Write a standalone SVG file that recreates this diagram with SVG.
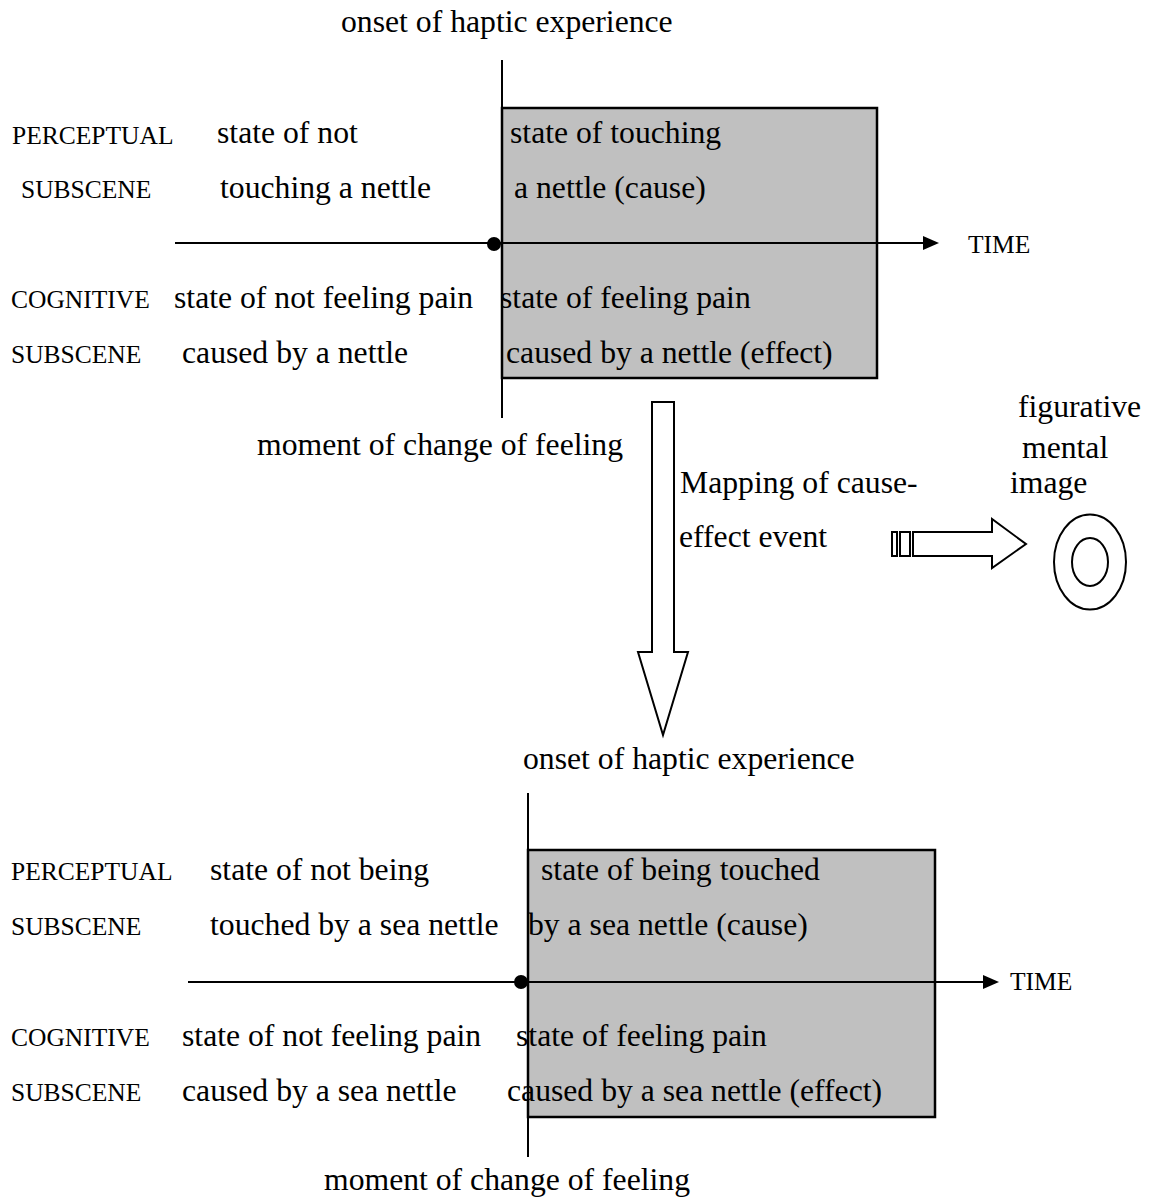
<svg xmlns="http://www.w3.org/2000/svg" width="1150" height="1198" viewBox="0 0 1150 1198">
  <style>
    text { font-family: "Liberation Serif", "Times New Roman", serif; fill: #000; }
    .big { font-size: 31.7px; }
    .cap { font-size: 25.5px; }
    .ln { stroke: #000; stroke-width: 2; fill: none; }
    .box { fill: #c0c0c0; stroke: #000; stroke-width: 2.5; }
    .hollow { fill: #fff; stroke: #000; stroke-width: 2; }
  </style>

  <!-- upper scene: touching a nettle -->
  <g id="scene-top">
    <rect class="box" x="502" y="108" width="375" height="270"/>
    <text class="big" x="341" y="32">onset of haptic experience</text>
    <text class="cap" x="12" y="144">PERCEPTUAL</text>
    <text class="big" x="217" y="143">state of not</text>
    <text class="big" x="510" y="143">state of touching</text>
    <text class="cap" x="21" y="198">SUBSCENE</text>
    <text class="big" x="220" y="198">touching a nettle</text>
    <text class="big" x="514" y="198">a nettle (cause)</text>
    <text class="cap" x="968" y="253">TIME</text>
    <text class="cap" x="11" y="308">COGNITIVE</text>
    <text class="big" x="174" y="308">state of not feeling pain</text>
    <text class="big" x="500" y="308">state of feeling pain</text>
    <text class="cap" x="11" y="363">SUBSCENE</text>
    <text class="big" x="182" y="363">caused by a nettle</text>
    <text class="big" x="506" y="363">caused by a nettle (effect)</text>
    <text class="big" x="257" y="455">moment of change of feeling</text>
  </g>

  <!-- lower scene: touched by a sea nettle -->
  <g id="scene-bottom">
    <rect class="box" x="528" y="850" width="407" height="267"/>
    <text class="big" x="523" y="769">onset of haptic experience</text>
    <text class="cap" x="11" y="880">PERCEPTUAL</text>
    <text class="big" x="210" y="880">state of not being</text>
    <text class="big" x="541" y="880">state of being touched</text>
    <text class="cap" x="11" y="935">SUBSCENE</text>
    <text class="big" x="210" y="935">touched by a sea nettle</text>
    <text class="big" x="528" y="935">by a sea nettle (cause)</text>
    <text class="cap" x="1010" y="990">TIME</text>
    <text class="cap" x="11" y="1046">COGNITIVE</text>
    <text class="big" x="182" y="1046">state of not feeling pain</text>
    <text class="big" x="516" y="1046">state of feeling pain</text>
    <text class="cap" x="11" y="1101">SUBSCENE</text>
    <text class="big" x="182" y="1101">caused by a sea nettle</text>
    <text class="big" x="507" y="1101">caused by a sea nettle (effect)</text>
    <text class="big" x="324" y="1190">moment of change of feeling</text>
  </g>

  <!-- mapping label -->
  <g id="mapping-label">
    <text class="big" x="680" y="493">Mapping of cause-</text>
    <text class="big" x="679" y="547">effect event</text>
  </g>

  <!-- figurative mental image -->
  <g id="mental-image">
    <text class="big" x="1018" y="417">figurative</text>
    <text class="big" x="1022" y="458">mental</text>
    <text class="big" x="1010" y="493">image</text>
    <ellipse class="ln" cx="1090" cy="562" rx="36" ry="47.5"/>
    <ellipse class="ln" cx="1090" cy="562" rx="18" ry="24"/>
  </g>

  <g id="connectors">
    <!-- upper time axis, onset line and change point -->
    <line class="ln" x1="502" y1="60" x2="502" y2="418"/>
    <line class="ln" x1="175" y1="243" x2="925" y2="243"/>
    <polygon points="923,236 939,243 923,250" fill="#000"/>
    <circle cx="494" cy="244" r="7" fill="#000"/>

    <!-- lower time axis, onset line and change point -->
    <line class="ln" x1="528" y1="793" x2="528" y2="1157"/>
    <line class="ln" x1="188" y1="982" x2="985" y2="982"/>
    <polygon points="983,975 999,982 983,989" fill="#000"/>
    <circle cx="521" cy="982" r="7" fill="#000"/>

    <!-- hollow mapping arrow between scenes -->
    <polygon class="hollow" points="652,402 674,402 674,652 688,652 663,735 638,652 652,652"/>

    <!-- striped block arrow towards the mental image -->
    <rect class="hollow" x="892" y="532" width="5" height="24"/>
    <rect class="hollow" x="900" y="532" width="10" height="24"/>
    <polygon class="hollow" points="913,532 992,532 992,519 1026,544 992,568 992,556 913,556"/>
  </g>
</svg>
